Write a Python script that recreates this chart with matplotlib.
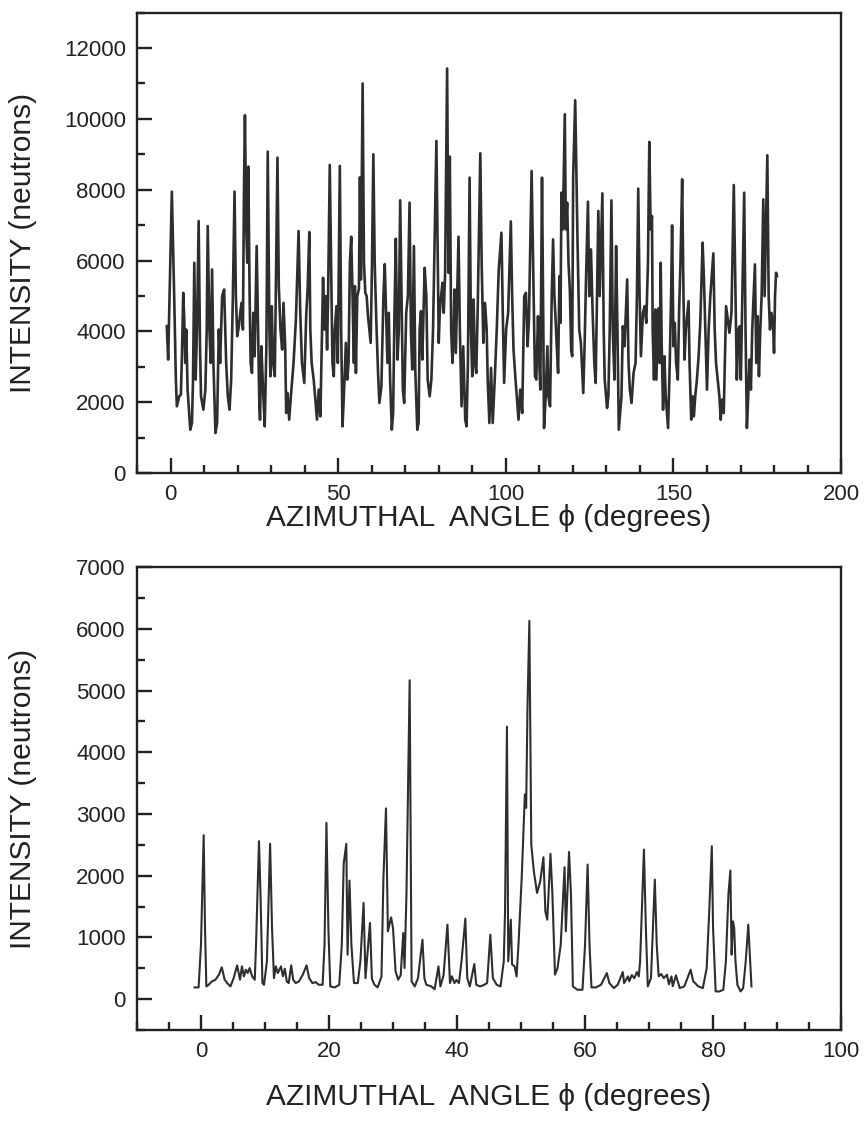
import matplotlib
matplotlib.use("Agg")
import matplotlib.pyplot as plt
from matplotlib.ticker import MultipleLocator

plt.rcParams['font.family'] = ['Liberation Sans', 'DejaVu Sans']

# (phi in degrees, intensity in neutrons),
# kept as one small list per stretch of the scan

# top panel, full 0-180 deg scan
top_0_34 = [
    (-1.1, 4144), (-0.7, 3201), (0.4, 7945), (1.1, 4993), (1.6, 2636), (1.9, 1881),
    (2.6, 2164), (3.1, 2211), (3.4, 3296), (3.8, 5087), (4.1, 4333), (4.4, 3107),
    (4.7, 4050), (5.1, 2353), (5.9, 1221), (6.4, 1410), (6.7, 2541), (7.1, 5936),
    (7.5, 2636), (7.9, 4050), (8.4, 7115), (8.8, 3578), (9.1, 2164), (9.8, 1786),
    (10.4, 2353), (10.8, 4050), (11.1, 6973), (11.6, 4050), (12.0, 3107), (12.4, 5747),
    (12.8, 3107), (13.4, 1127), (13.9, 1410), (14.4, 4050), (14.8, 3107), (15.4, 4993),
    (16.0, 5181), (16.6, 3107), (17.1, 2164), (17.6, 1786), (18.1, 2636), (18.6, 4993),
    (19.1, 7945), (19.5, 4993), (19.9, 3861), (20.4, 4144), (20.8, 4521), (21.2, 4804),
    (21.6, 4050), (21.9, 7822), (22.2, 10104), (22.6, 6879), (22.9, 5936), (23.2, 8652),
    (23.6, 4993), (23.9, 3107), (24.3, 2824), (24.7, 4521), (25.1, 3296), (25.7, 6407),
    (26.1, 4050), (26.5, 1881), (26.7, 1504), (27.1, 3578), (27.6, 2353), (28.1, 1315),
    (28.6, 3578), (29.0, 9076), (29.5, 4050), (29.8, 2730), (30.2, 4710), (30.6, 3107),
    (31.1, 2730), (31.9, 8907), (32.3, 5276), (32.8, 4050), (33.3, 3484), (33.7, 4804),
]
top_34_70 = [
    (34.2, 3578), (34.5, 1692), (34.9, 2258), (35.4, 1504), (35.9, 2164), (36.7, 3107),
    (37.4, 4333), (38.2, 6832), (38.7, 4521), (39.2, 3107), (39.9, 2541), (40.5, 4521),
    (40.9, 5181), (41.4, 6804), (41.7, 4050), (42.1, 3107), (42.7, 2636), (43.7, 1504),
    (44.2, 2353), (44.7, 1598), (45.2, 4050), (45.5, 5512), (45.9, 4050), (46.3, 4993),
    (46.7, 3484), (47.0, 4993), (47.5, 8699), (47.9, 5936), (48.3, 3107), (48.7, 2730),
    (49.0, 4050), (49.5, 4710), (49.9, 3107), (50.5, 8671), (50.9, 4050), (51.3, 1315),
    (51.7, 2164), (52.3, 3673), (52.7, 2636), (53.1, 3107), (53.5, 5936), (53.9, 6672),
    (54.3, 4993), (54.7, 3107), (55.0, 5276), (55.3, 2824), (55.7, 4993), (56.2, 5200),
    (56.5, 8350), (56.8, 5465), (57.3, 11000), (57.7, 5936), (58.1, 5087), (58.5, 4993),
    (58.9, 4427), (59.3, 4050), (59.7, 3673), (60.1, 5936), (60.5, 9000), (60.9, 5936),
    (61.4, 4239), (61.9, 2824), (62.3, 1976), (62.9, 2447), (63.5, 4993), (63.9, 5898),
    (64.3, 4521), (64.7, 3107), (65.1, 4521), (65.5, 2636), (66.0, 1221), (66.4, 1692),
    (66.8, 4521), (67.2, 6615), (67.7, 3201), (68.1, 4050), (68.5, 7700), (68.9, 4993),
    (69.3, 2353), (69.7, 1976), (70.3, 4521),
]
top_70_107 = [
    (70.8, 4993), (71.3, 7634), (71.7, 4050), (72.1, 2919), (72.6, 6407), (73.0, 2919),
    (73.6, 1221), (74.0, 1410), (74.3, 4050), (74.7, 4569), (75.1, 3201), (75.8, 5794),
    (76.3, 4993), (76.7, 2636), (77.3, 2164), (77.8, 2636), (78.3, 4050), (79.3, 9378),
    (79.7, 6124), (80.0, 3673), (80.3, 4521), (80.7, 4993), (81.1, 5370), (81.5, 4521),
    (81.9, 5653), (82.5, 11424), (82.9, 5653), (83.3, 8935), (83.7, 4050), (84.1, 3107),
    (84.4, 3861), (84.7, 5181), (85.1, 3390), (85.9, 6672), (86.3, 4050), (86.8, 1881),
    (87.3, 3578), (87.9, 1504), (88.3, 1315), (88.7, 3107), (89.2, 8341), (89.6, 4050),
    (90.0, 2730), (90.4, 4899), (90.8, 3107), (91.2, 2824), (91.6, 4521), (92.4, 9029),
    (92.8, 5936), (93.3, 3673), (93.8, 4804), (94.3, 4050), (94.6, 2636), (95.1, 1410),
    (95.6, 2966), (96.1, 1410), (96.7, 2636), (97.3, 4050), (97.9, 5747), (98.7, 6785),
    (99.1, 4521), (99.5, 2541), (100.1, 4050), (100.7, 4521), (101.5, 7105), (101.9, 4993),
    (102.3, 3484), (102.9, 2636), (103.8, 1504), (104.3, 2353), (104.9, 1692), (105.5, 4993),
    (106.0, 5087), (106.5, 3578), (106.9, 4333),
]
top_107_144 = [
    (107.7, 8530), (108.3, 4993), (108.7, 2730), (109.1, 2636), (109.6, 4427), (110.0, 3107),
    (110.3, 2353), (110.8, 8341), (111.2, 4050), (111.4, 1268), (111.9, 2164), (112.4, 3578),
    (112.7, 2164), (113.2, 1881), (113.7, 4993), (114.1, 6596), (114.5, 4993), (114.9, 4239),
    (115.2, 3578), (115.6, 2824), (116.0, 5559), (116.3, 4239), (116.6, 7916), (117.0, 6879),
    (117.6, 10132), (117.9, 6879), (118.3, 7634), (118.7, 5936), (119.1, 5181), (119.5, 3484),
    (119.8, 3296), (120.1, 8388), (120.7, 10528), (121.0, 8765), (121.4, 6502), (121.9, 4050),
    (122.4, 3673), (123.1, 2258), (123.5, 3578), (123.9, 5370), (124.5, 7662), (124.9, 4993),
    (125.4, 6313), (125.9, 4521), (126.4, 3107), (126.8, 2541), (127.2, 4993), (127.6, 7398),
    (128.0, 4993), (128.8, 7897), (129.2, 4050), (129.5, 2636), (129.9, 2164), (130.2, 1834),
    (130.6, 2164), (131.0, 4050), (131.5, 7700), (131.9, 4050), (132.4, 2636), (132.9, 6407),
    (133.3, 4050), (133.7, 1221), (134.1, 1692), (134.5, 2164), (134.9, 4144), (135.4, 3578),
    (136.2, 5465), (136.6, 3107), (137.0, 2353), (137.5, 1976), (138.1, 2824), (138.7, 3107),
    (139.1, 4993), (139.5, 8030), (139.9, 4993), (140.3, 3296), (140.9, 4521), (141.4, 4710),
    (141.9, 4239), (142.4, 5936), (142.8, 9350), (143.2, 6879), (143.6, 7256),
]
top_144_181 = [
    (143.8, 4050), (144.2, 2636), (144.6, 4616), (144.9, 2636), (145.5, 4644), (145.9, 3107),
    (146.2, 5936), (146.5, 3578), (146.9, 1786), (147.3, 3296), (147.7, 2164), (148.4, 1268),
    (148.9, 3107), (149.3, 4993), (149.6, 6992), (150.0, 3578), (150.4, 4239), (150.8, 3107),
    (151.3, 2636), (151.7, 4616), (152.1, 5936), (152.6, 8294), (153.0, 4993), (153.3, 3201),
    (153.7, 4050), (154.5, 4852), (154.8, 3107), (155.3, 1504), (155.7, 2164), (156.1, 1598),
    (156.5, 2164), (157.0, 2636), (157.5, 3296), (158.0, 4239), (158.7, 6502), (159.1, 5465),
    (159.5, 4050), (160.0, 2353), (160.5, 4050), (161.0, 4993), (161.9, 6200), (162.3, 4050),
    (162.7, 3107), (163.2, 2636), (163.7, 2164), (164.1, 1504), (164.5, 2070), (165.0, 1692),
    (165.7, 4710), (166.2, 4333), (166.7, 3956), (167.3, 4521), (168.0, 8133), (168.5, 4993),
    (168.9, 2636), (169.4, 4050), (169.8, 4144), (170.1, 2636), (171.1, 7916), (171.5, 4050),
    (171.9, 1268), (172.3, 2164), (172.7, 3201), (173.1, 2353), (173.5, 4050), (174.3, 5889),
    (174.7, 3107), (175.1, 4427), (175.5, 2730), (175.9, 4050), (176.3, 4993), (176.8, 7728),
    (177.2, 4993), (178.0, 8973), (178.4, 4993), (178.8, 4050), (179.2, 4521), (179.7, 4239),
    (180.0, 3390), (180.3, 4993), (180.6, 5653), (180.9, 5559),
]

# bottom panel, 0-86 deg scan
bot_0_27 = [
    (-1.0, 190), (-0.37, 190), (0.0, 882), (0.42, 2657), (0.63, 1153), (0.84, 206),
    (1.2, 233), (1.7, 287), (2.25, 314), (2.8, 396), (3.25, 515), (3.7, 315), (4.1, 260),
    (4.6, 206), (5.1, 340), (5.65, 547), (6.1, 315), (6.4, 531), (6.7, 369), (7.0, 477),
    (7.3, 423), (7.6, 504), (8.0, 369), (8.4, 315), (8.6, 882), (9.06, 2560), (9.3, 1695),
    (9.6, 260), (9.85, 233), (10.3, 612), (10.8, 2517), (11.1, 1153), (11.4, 341),
    (11.7, 531), (12.0, 423), (12.5, 531), (12.8, 369), (13.1, 493), (13.4, 287),
    (13.7, 260), (14.1, 547), (14.4, 315), (14.8, 260), (15.3, 287), (15.9, 396),
    (16.5, 547), (16.9, 341), (17.4, 260), (17.9, 276), (18.4, 233), (19.0, 233),
    (19.3, 882), (19.6, 2857), (19.9, 1153), (20.2, 206), (20.9, 190), (21.6, 233),
    (22.0, 882), (22.3, 2200), (22.7, 2517), (22.9, 720), (23.2, 1921), (23.5, 882),
    (23.9, 261), (24.5, 261), (24.9, 612), (25.4, 1559), (25.7, 341), (26.4, 1234),
    (26.7, 330),
]
bot_27_64 = [
    (27.1, 233), (27.6, 190), (28.2, 368), (28.5, 1960), (28.9, 3090), (29.1, 1700),
    (29.2, 1099), (29.7, 1326), (30.0, 1153), (30.4, 450), (30.8, 315), (31.2, 390),
    (31.6, 1072), (31.8, 504), (32.1, 1700), (32.6, 5167), (32.8, 1860), (32.9, 287),
    (33.4, 206), (33.9, 340), (34.6, 964), (34.9, 340), (35.2, 233), (36.0, 206),
    (36.5, 160), (37.1, 531), (37.4, 206), (37.9, 390), (38.5, 1207), (38.9, 261),
    (39.2, 370), (39.6, 260), (39.9, 310), (40.3, 260), (40.7, 612), (41.3, 1304),
    (41.6, 340), (42.0, 206), (42.7, 569), (43.0, 233), (43.6, 206), (44.2, 230),
    (44.7, 261), (45.2, 1045), (45.6, 340), (46.2, 233), (46.8, 206), (47.3, 612),
    (47.5, 1420), (47.8, 4415), (48.0, 612), (48.4, 1288), (48.6, 560), (49.0, 531),
    (49.3, 369), (49.6, 880), (50.1, 1960), (50.6, 3317), (50.8, 3100), (51.0, 4670),
    (51.3, 6130), (51.45, 4237), (51.6, 2505), (52.0, 2073), (52.5, 1721), (53.0, 1910),
    (53.5, 2300), (53.8, 1420), (54.1, 1288), (54.6, 2354), (54.9, 1700), (55.3, 396),
    (55.7, 504), (56.2, 880), (56.8, 2138), (57.0, 1099), (57.5, 2386), (57.8, 1700),
    (58.1, 206), (58.8, 152), (59.6, 152), (60.0, 880), (60.4, 2181), (60.7, 880),
    (61.0, 190), (61.7, 190), (62.5, 233), (63.4, 423), (63.8, 260),
]
bot_64_86 = [
    (64.5, 179), (65.1, 233), (65.9, 439), (66.1, 260), (66.7, 369), (66.9, 290),
    (67.3, 390), (67.7, 340), (68.1, 439), (68.4, 369), (68.6, 610), (69.2, 2424),
    (69.5, 1153), (69.8, 206), (70.3, 340), (70.9, 1937), (71.2, 880), (71.5, 370),
    (71.9, 407), (72.3, 340), (72.8, 396), (73.1, 240), (73.5, 369), (73.7, 210),
    (74.2, 385), (74.8, 179), (75.5, 206), (76.5, 477), (76.9, 290), (77.7, 206),
    (78.4, 179), (79.0, 500), (79.4, 1420), (79.8, 2478), (80.0, 1153), (80.4, 125),
    (81.0, 125), (81.6, 152), (82.0, 612), (82.4, 1700), (82.7, 2084), (82.9, 720),
    (83.1, 1261), (83.3, 1153), (83.5, 612), (83.8, 233), (84.3, 125), (84.7, 179),
    (85.1, 612), (85.5, 1207), (85.8, 612), (86.0, 206),
]

top_scan = top_0_34 + top_34_70 + top_70_107 + top_107_144 + top_144_181
bot_scan = bot_0_27 + bot_27_64 + bot_64_86
top_phi, top_counts = zip(*top_scan)
bot_phi, bot_counts = zip(*bot_scan)

fig = plt.figure(figsize=(8.68, 11.22), dpi=100)
ax1 = fig.add_axes([0.1578, 0.5785, 0.8112, 0.4102])
ax2 = fig.add_axes([0.1578, 0.0820, 0.8112, 0.4125])

ink = '#222222'
ax1.plot(top_phi, top_counts, color='#2e2e2e', lw=1.9)
ax2.plot(bot_phi, bot_counts, color='#2e2e2e', lw=1.5)

ax1.set_xlim(-10, 200)
ax1.set_ylim(0, 13000)
ax1.xaxis.set_major_locator(MultipleLocator(50))
ax1.xaxis.set_minor_locator(MultipleLocator(10))
ax1.yaxis.set_major_locator(MultipleLocator(2000))
ax1.yaxis.set_minor_locator(MultipleLocator(1000))

ax2.set_xlim(-10, 100)
ax2.set_ylim(-500, 7000)
ax2.xaxis.set_major_locator(MultipleLocator(20))
ax2.xaxis.set_minor_locator(MultipleLocator(5))
ax2.yaxis.set_major_locator(MultipleLocator(1000))
ax2.yaxis.set_minor_locator(MultipleLocator(500))

for ax, lab_y in [(ax1, -0.098), (ax2, -0.145)]:
    for s in ax.spines.values():
        s.set_linewidth(1.7)
        s.set_color(ink)
    ax.tick_params(which='major', direction='in', length=11, width=1.7,
                   labelsize=16, pad=8, colors=ink)
    ax.tick_params(which='minor', direction='in', length=5.5, width=1.7, colors=ink)
    ax.set_ylabel('INTENSITY (neutrons)', fontsize=21.5, color=ink)
    ax.yaxis.set_label_coords(-0.162, 0.5)
    ax.set_xlabel('AZIMUTHAL  ANGLE \u03d5 (degrees)', fontsize=21.5, color=ink)
    ax.xaxis.set_label_coords(0.5, lab_y)
    ax.xaxis.label.set_va('center')
    ax.yaxis.label.set_va('center')

fig.savefig('out.png', dpi=100)
